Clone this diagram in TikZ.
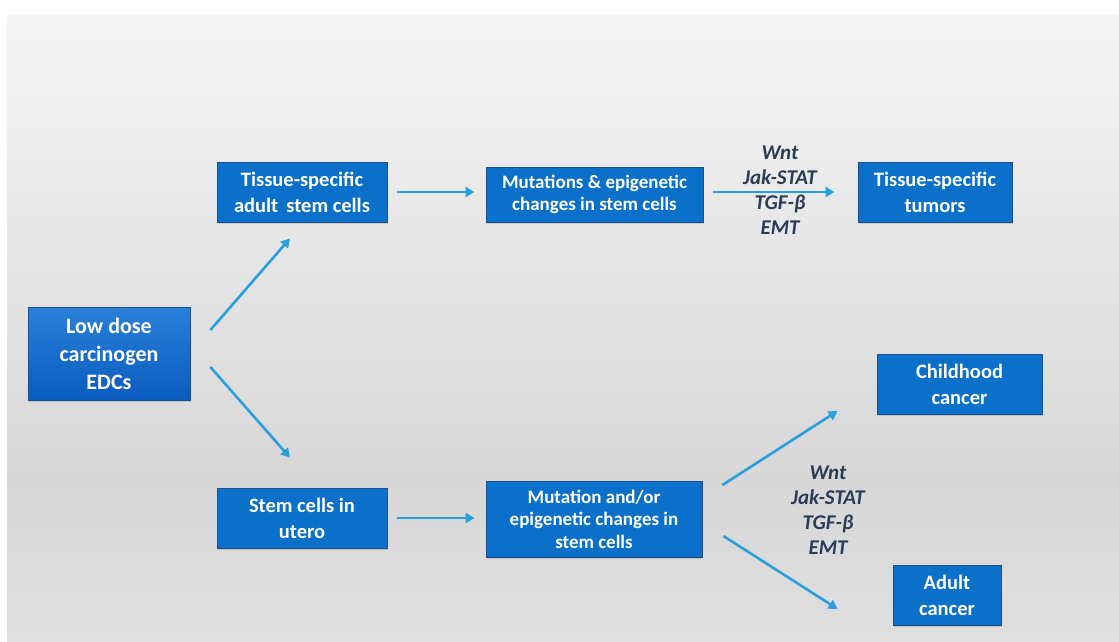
\documentclass[tikz,border=0pt]{standalone}
\usepackage{fontspec}
\setmainfont{Carlito}
\usetikzlibrary{arrows.meta,shadows,calc}
\definecolor{boxblue}{HTML}{0A70C9}
\definecolor{boxedge}{HTML}{1B4F8E}
\definecolor{lowtop}{HTML}{2A80D9}
\definecolor{lowbot}{HTML}{0A5CBF}
\definecolor{arrblue}{HTML}{2A9FDB}
\definecolor{labcol}{HTML}{2A3C58}
\definecolor{bgA}{HTML}{F5F5F5}
\definecolor{bgB}{HTML}{D7D7D7}
\definecolor{bgC}{HTML}{DFDFDF}
\tikzset{
  box/.style={draw=boxedge, fill=boxblue, line width=0.8pt, text=white,
    font=\bfseries\fontsize{20.5}{26}\selectfont, align=center, inner sep=0pt,
    drop shadow={opacity=0.3, shadow xshift=1.2pt, shadow yshift=-1.5pt}},
  smallbox/.style={box, font=\bfseries\fontsize{19}{22.5}\selectfont},
  lowbox/.style={box, fill=none, top color=lowtop, bottom color=lowbot,
    font=\bfseries\fontsize{22}{28}\selectfont},
  arr/.style={draw=arrblue, line width=2.6pt, -{Triangle[length=9pt,width=10pt]}},
  lab/.style={font=\bfseries\itshape\fontsize{21}{25}\selectfont, text=labcol, align=center}
}
\begin{document}
\begin{tikzpicture}[x=1pt,y=-1pt]
\useasboundingbox (0,0) rectangle (1119,641);
\fill[white] (0,0) rectangle (1119,641);
\shade[top color=bgA, bottom color=bgB] (7,14) rectangle (1119,480);
\shade[top color=bgB, bottom color=bgC] (7,480) rectangle (1119,641);

\node[lowbox, minimum width=162pt, minimum height=93pt] (low) at (109,353.5) {Low dose\\carcinogen\\EDCs};
\node[box, minimum width=170pt, minimum height=60pt] (tis) at (302,192) {Tissue-specific\\adult\, stem cells};
\node[smallbox, minimum width=217pt, minimum height=55pt] (mutA) at (594.5,194.5) {Mutations \& epigenetic\\changes in stem cells};
\node[box, minimum width=154pt, minimum height=60pt] (tum) at (935,192) {Tissue-specific\\tumors};
\node[box, minimum width=165pt, minimum height=60pt] (child) at (959.5,384) {Childhood\\cancer};
\node[box, minimum width=170pt, minimum height=60pt] (utero) at (302,518) {Stem cells in\\utero};
\node[smallbox, minimum width=216pt, minimum height=76pt] (mutB) at (594,519) {Mutation and/or\\epigenetic changes in\\stem cells};
\node[box, minimum width=108pt, minimum height=60pt] (adult) at (947,595) {Adult\\cancer};

\node[lab] (sigA) at (780,190.5) {Wnt\\Jak-STAT\\TGF-β\\EMT};
\node[lab] (sigB) at (828,510) {Wnt\\Jak-STAT\\TGF-β\\EMT};

\draw[arr] ([shift={(20,-23.5)}]low.east) -- ([shift={(-12,16)}]tis.south);
\draw[arr] ([shift={(20,13.5)}]low.east) -- ([shift={(-12,-30)}]utero.north);
\draw[arr, shorten <=10pt, shorten >=11pt] (tis.east) -- (tis.east -| mutA.west);
\draw[arr, shorten <=10pt, shorten >=23pt] (tum.west -| mutA.east) -- (tum.west);
\draw[arr, shorten <=10pt, shorten >=11pt] (utero.east) -- (utero.east -| mutB.west);
\draw[arr] ([shift={(20,-34)}]mutB.east) -- ([shift={(-39,27)}]child.west);
\draw[arr] ([shift={(21,17)}]mutB.east) -- ([shift={(-55,14)}]adult.west);
\end{tikzpicture}
\end{document}
